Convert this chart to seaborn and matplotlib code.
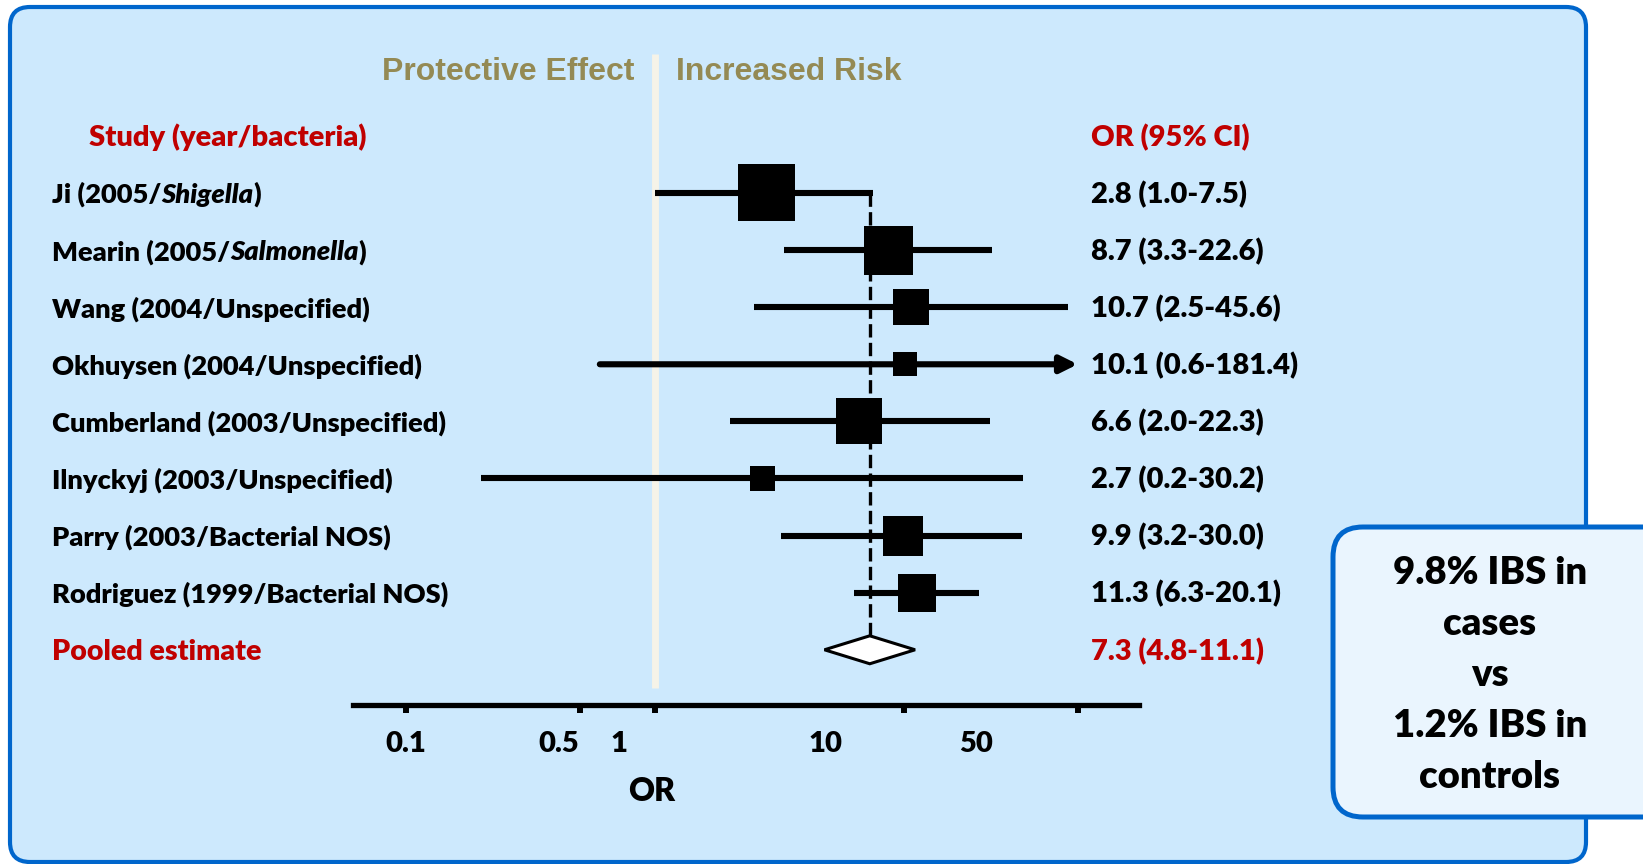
import matplotlib
matplotlib.use("Agg")
import matplotlib.pyplot as plt
import matplotlib.transforms as mtransforms
from matplotlib.patches import FancyBboxPatch, Polygon
import seaborn as sns
import pandas as pd

# ---- data ----
studies = ["Ji", "Mearin", "Wang", "Okhuysen", "Cumberland", "Ilnyckyj", "Parry", "Rodriguez"]
years = ["2005", "2005", "2004", "2004", "2003", "2003", "2003", "1999"]
bacteria = ["Shigella", "Salmonella", "Unspecified", "Unspecified",
            "Unspecified", "Unspecified", "Bacterial NOS", "Bacterial NOS"]
genus_named = [True, True, False, False, False, False, False, False]
odds_ratio = [2.8, 8.7, 10.7, 10.1, 6.6, 2.7, 9.9, 11.3]
ci_low = [1.0, 3.3, 2.5, 0.6, 2.0, 0.2, 3.2, 6.3]
ci_high = [7.5, 22.6, 45.6, 181.4, 22.3, 30.2, 30.0, 20.1]
weight = [24.5, 18.1, 9.6, 4.3, 16.0, 4.7, 12.0, 10.7]   # % weight (square area)

pooled_or, pooled_low, pooled_high = 7.3, 4.8, 11.1

axis_ticks = [0.1, 0.5, 1, 10, 50]
tick_labels = ["0.1", "0.5", "1", "10", "50"]
tick_label_shift = [0, -21, -36, -78, -102]   # labels sit left of their ticks in the original

callout = "9.8% IBS in\ncases\nvs\n1.2% IBS in\ncontrols"

df = pd.DataFrame({"study": studies, "year": years, "bacteria": bacteria,
                   "OR": odds_ratio, "low": ci_low, "high": ci_high, "weight": weight})
df["row"] = range(len(df))
pooled_row = len(df)

# ---- style ----
sns.set_theme(style="white")
plt.rcParams["font.family"] = ["Lato", "DejaVu Sans"]
plt.rcParams["font.weight"] = "heavy"
WT = "heavy"

BLUE = "#0066cc"
PANEL = "#cde9fd"
RED = "#c00000"
OLIVE = "#948a54"

W, H = 1643, 864
fig = plt.figure(figsize=(W / 100, H / 100), dpi=100, facecolor="white")
px = mtransforms.Affine2D().scale(0.01) + fig.dpi_scale_trans   # pixel coords (origin bottom-left)

panel = FancyBboxPatch((10, H - 862), 1576, 855, boxstyle="round,pad=0,rounding_size=20",
                       fc=PANEL, ec=BLUE, lw=3, transform=px, zorder=-2)
fig.add_artist(panel)

ax = fig.add_axes([353 / W, (H - 705) / H, (1139 - 353) / W, (705 - 54) / H])
ax.set_facecolor("none")
ax.set_xscale("log")
ax.set_xlim(0.0611, 88.2)
ax.set_ylim(8.967, -2.434)

# reference line at OR = 1
ax.plot([1, 1], [-2.434, 8.67], color="#f5f3e8", lw=5, solid_capstyle="butt", zorder=1)

# pooled estimate dashed line
diamond_half = 0.245
ax.plot([pooled_or, pooled_or], [0, pooled_row - diamond_half], color="black", lw=2.4,
        linestyle=(0, (4, 1.6)), zorder=2)

# confidence intervals
cap = max(axis_ticks)
for _, r in df.iterrows():
    if r["high"] > cap:
        ax.annotate("", xy=(cap, r["row"]), xytext=(r["low"], r["row"]),
                    arrowprops=dict(arrowstyle="-|>,head_length=1.0,head_width=0.5",
                                    lw=4.4, color="black", mutation_scale=10,
                                    shrinkA=0, shrinkB=0), zorder=3)
    else:
        ax.plot([r["low"], r["high"]], [r["row"], r["row"]], color="black", lw=4.4,
                solid_capstyle="butt", zorder=3)

# study squares, area proportional to weight
k = 68.7
sns.scatterplot(data=df, x="OR", y="row", size="weight", sizes=(0, 30 * k), size_norm=(0, 30),
                marker="s", color="black", edgecolor="none", linewidth=0, legend=False,
                ax=ax, zorder=4)

# pooled diamond
ax.add_patch(Polygon([(pooled_low, pooled_row), (pooled_or, pooled_row - diamond_half),
                      (pooled_high, pooled_row), (pooled_or, pooled_row + diamond_half)],
                     closed=True, fc="white", ec="black", lw=2.2, zorder=5))

# axis styling
for s in ["left", "right", "top"]:
    ax.spines[s].set_visible(False)
ax.spines["bottom"].set_linewidth(3.8)
ax.spines["bottom"].set_color("black")
ax.set_yticks([])
ax.set_xticks(axis_ticks)
ax.minorticks_off()
ax.set_xticklabels([])
ax.tick_params(axis="x", direction="out", length=6, width=4.3, color="black", bottom=True)
ax.set_xlabel("")
ax.set_ylabel("")

tick_trans = mtransforms.blended_transform_factory(ax.transData, px)
for v, lab, dx in zip(axis_ticks, tick_labels, tick_label_shift):
    ax.text(v, H - 752, lab, transform=tick_trans + mtransforms.ScaledTranslation(dx / 100, 0, fig.dpi_scale_trans),
            ha="center", va="baseline", fontsize=21, fontweight=WT, color="black", clip_on=False)
fig.text(652, H - 801, "OR", transform=px, ha="center", va="baseline",
         fontsize=23, fontweight=WT, color="black")

# text columns
renderer = fig.canvas.get_renderer()
row_trans = (mtransforms.blended_transform_factory(px, ax.transData)
             + mtransforms.ScaledTranslation(0, -0.10, fig.dpi_scale_trans))


def put_parts(x, row, parts, color="black", size=19.6):
    for txt, style in parts:
        t = ax.text(x, row, txt, transform=row_trans, ha="left", va="baseline", fontsize=size,
                    fontweight=WT, fontstyle=style, color=color, clip_on=False)
        x += t.get_window_extent(renderer).width * 100 / fig.dpi


put_parts(89, -1, [("Study (year/bacteria)", "normal")], color=RED, size=21)
put_parts(1091, -1, [("OR (95% CI)", "normal")], color=RED, size=21)
for _, r in df.iterrows():
    if genus_named[r["row"]]:
        parts = [(f"{r['study']} ({r['year']}/", "normal"), (r["bacteria"], "italic"), (")", "normal")]
    else:
        parts = [(f"{r['study']} ({r['year']}/{r['bacteria']})", "normal")]
    put_parts(52, r["row"], parts)
    put_parts(1091, r["row"], [(f"{r['OR']:.1f} ({r['low']:.1f}-{r['high']:.1f})", "normal")], size=21)
put_parts(52, pooled_row, [("Pooled estimate", "normal")], color=RED, size=20.5)
put_parts(1091, pooled_row, [(f"{pooled_or:.1f} ({pooled_low:.1f}-{pooled_high:.1f})", "normal")],
          color=RED, size=21)

# region headers
narrow = ["Liberation Sans Narrow", "Liberation Sans", "DejaVu Sans"]
fig.text(634, H - 80, "Protective Effect", transform=px, ha="right", va="baseline",
         fontsize=23, fontweight="bold", color=OLIVE, family=narrow)
fig.text(676, H - 80, "Increased Risk", transform=px, ha="left", va="baseline",
         fontsize=23, fontweight="bold", color=OLIVE, family=narrow)

# callout box
box = FancyBboxPatch((1333, H - 817), 340, 290, boxstyle="round,pad=0,rounding_size=30",
                     fc="#eaf5fe", ec=BLUE, lw=3.6, transform=px, zorder=6)
fig.add_artist(box)
fig.text(1490, H - 675, callout, transform=px, ha="center", va="center", multialignment="center",
         fontsize=27.5, fontweight=WT, color="black", linespacing=1.6, zorder=7)

fig.savefig("out.png", dpi=100, facecolor="white")
